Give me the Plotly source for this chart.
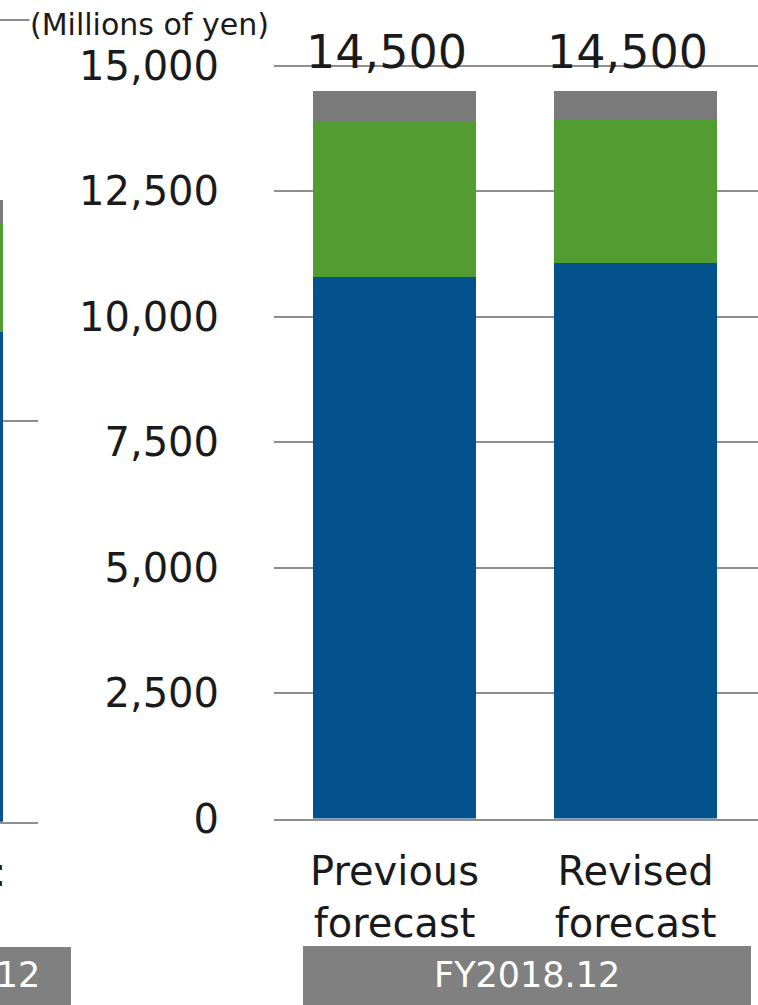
import plotly.graph_objects as go

W, H = 758, 1005

# Forecast columns (millions of yen)
categories = ["Previous<br>forecast", "Revised<br>forecast"]
blue_vals = [10800, 11070]
green_vals = [3100, 2870]
gray_vals = [600, 560]
totals = [b + g + o for b, g, o in zip(blue_vals, green_vals, gray_vals)]

# Prior-year column, only its right edge is in view
prior_blue = [12220]
prior_green = [2690]
prior_gray = [610]

y_ticks = [0, 2500, 5000, 7500, 10000, 12500, 15000]

BLUE = "#03528D"
GREEN = "#529D32"
GRAY = "#7A7A7A"
GRID = "#8E8E8E"
BOX = "#808080"
TXT = "#1A1A1A"
FONT = "DejaVu Sans"
BAR_W = 0.676


def px(x):
    return x / W


def py(y):
    return (H - y) / H


fig = go.Figure()

# prior-year stacked column (left panel)
for vals, col in [(prior_blue, BLUE), (prior_green, GREEN), (prior_gray, GRAY)]:
    fig.add_trace(go.Bar(x=[0], y=vals, width=BAR_W, marker_color=col,
                         marker_line_width=0,
                         xaxis="x", yaxis="y", showlegend=False,
                         hoverinfo="skip"))

# forecast stacked columns (right panel)
for vals, col in [(blue_vals, BLUE), (green_vals, GREEN), (gray_vals, GRAY)]:
    fig.add_trace(go.Bar(x=categories, y=vals, width=BAR_W, marker_color=col,
                         marker_line_width=0,
                         xaxis="x2", yaxis="y2", showlegend=False,
                         hoverinfo="skip"))

annotations = []
for cat, tot in zip(categories, totals):
    annotations.append(dict(
        x=cat, y=15000, xref="x2", yref="y2", text=f"{tot:,}",
        showarrow=False, xanchor="center", yanchor="middle",
        xshift=-8.5, yshift=14,
        font=dict(family=FONT, size=46, color=TXT)))

annotations += [
    dict(x=px(29), y=py(25), xref="paper", yref="paper",
         text="(Millions of yen)", showarrow=False,
         xanchor="left", yanchor="middle", bgcolor="white", borderpad=0,
         font=dict(family=FONT, size=30, color=TXT)),
    dict(x=px(527), y=py(975), xref="paper", yref="paper",
         text="FY2018.12", showarrow=False, xanchor="center", yanchor="middle",
         font=dict(family=FONT, size=35, color="white")),
    dict(x=px(42), y=py(975), xref="paper", yref="paper",
         text="FY2017.12", showarrow=False, xanchor="right", yanchor="middle",
         font=dict(family=FONT, size=35, color="white")),
    dict(x=px(8), y=py(872), xref="paper", yref="paper",
         text=":", showarrow=False, xanchor="right", yanchor="middle",
         font=dict(family=FONT, size=40, color=TXT)),
]

shapes = [
    dict(type="rect", xref="paper", yref="paper",
         x0=px(303), x1=px(751), y0=0, y1=py(946),
         fillcolor=BOX, line=dict(width=0), layer="below"),
    dict(type="rect", xref="paper", yref="paper",
         x0=0, x1=px(71), y0=0, y1=py(947),
         fillcolor=BOX, line=dict(width=0), layer="below"),
]

# pixel scales of the two value axes
R_PX = (818.5 - 66) / 15000
L_PX = (821.7 - 20) / 20000
R_TOP, L_TOP = 15060, 20100

fig.update_layout(
    width=W, height=H,
    margin=dict(l=0, r=0, t=0, b=0, pad=0, autoexpand=False),
    paper_bgcolor="white", plot_bgcolor="rgba(0,0,0,0)",
    barmode="stack",
    font=dict(family=FONT, color=TXT),
    annotations=annotations,
    shapes=shapes,
    xaxis=dict(domain=[0, px(38)], range=[0.3243, 0.482],
               showticklabels=False, showgrid=False, zeroline=False,
               showline=True, linecolor=GRID, linewidth=2, anchor="y",
               automargin=False, fixedrange=True),
    yaxis=dict(domain=[py(821.7), py(821.7 - L_TOP * L_PX)],
               range=[0, L_TOP], dtick=10000,
               showticklabels=False, showgrid=True, gridcolor=GRID,
               gridwidth=1.5, zeroline=False, anchor="x",
               automargin=False, fixedrange=True),
    xaxis2=dict(domain=[px(274), 1], range=[-0.5, 1.508], type="category",
                showgrid=False, zeroline=False, showline=True,
                linecolor=GRID, linewidth=2, anchor="y2",
                tickfont=dict(family=FONT, size=40, color=TXT),
                ticklabelstandoff=16, automargin=False, fixedrange=True),
    yaxis2=dict(domain=[py(818.5), py(818.5 - R_TOP * R_PX)],
                range=[0, R_TOP],
                tickvals=y_ticks, ticktext=[f"{v:,}" for v in y_ticks],
                showgrid=True, gridcolor=GRID, gridwidth=1.5, zeroline=False,
                anchor="x2", ticks="",
                tickfont=dict(family=FONT, size=40, color=TXT),
                ticklabelstandoff=54, automargin=False, fixedrange=True),
)

fig.write_html("out.html")
